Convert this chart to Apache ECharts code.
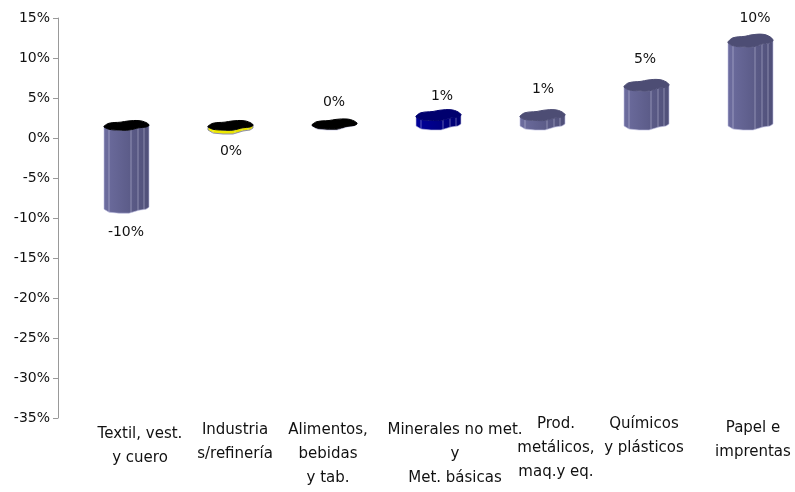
<!DOCTYPE html>
<html><head><meta charset="utf-8">
<style>html,body{margin:0;background:#fff}#c{width:795px;height:492px}</style>
<script src="https://cdn.jsdelivr.net/npm/echarts@6/dist/echarts.min.js"></script>
</head><body><div id="c"></div>
<script>
const categories = ['Textil, vest.\ny cuero','Industria\ns/refinería','Alimentos,\nbebidas\ny tab.','Minerales no met.\ny\nMet. básicas','Prod.\nmetálicos,\nmaq.y eq.','Químicos\ny plásticos','Papel e\nimprentas'];
const values = [-10.4,-0.5,0.2,1.2,1.2,4.9,10.4];
const valueLabels = ['-10%','0%','0%','1%','1%','5%','10%'];
const yTicks = {min:-35,max:15,interval:5};

// layout and colour lists, separate from the data
const catNudge = [[30,10],[21,6],[10,6],[33,6],[30,0],[14,0],[19,4]];
const labelPos = [[-1,19],[0,17],[-1,-15],[3,-13],[0,-20],[-2,-20],[4,-17]];
const bodyCol = [['#6d6d9f','#4f4f78'],['#f5f000','#e0dc00'],['#000','#000'],['#00009a','#000070'],['#6d6d9f','#4f4f78'],['#6d6d9f','#4f4f78'],['#6d6d9f','#4f4f78']];
const topCol = ['#000','#000','#000','#00006e','#4d4d74','#4d4d74','#4d4d74'];
const lidScale = [0.75,0.75,0.75,0.85,0.85,0.9,1];
const frontCurve = [[-23,-4],[-18,-1],[-8,0],[2,0],[12,-3],[19,-4],[22,-6]];
const backCurve = [[22,-7],[19,-10],[12,-12.5],[1,-12],[-6,-10.5],[-18,-9],[-23,-5]];
const ridges = [-18,4,11,17];

function frontY(dx){
  for(let i=1;i<frontCurve.length;i++){
    if(dx<=frontCurve[i][0]){
      const a=frontCurve[i-1],b=frontCurve[i];
      return a[1]+(b[1]-a[1])*(dx-a[0])/(b[0]-a[0]);
    }
  }
  return -6;
}

function renderColumn(params, api){
  const i = params.dataIndex, v = api.value(1);
  const c0 = api.coord([api.value(0),0]), c1 = api.coord([api.value(0),v]);
  const cx = c0[0]+17, depth = 8, s = lidScale[i];
  const yFront = Math.min(c0[1],c1[1])-depth, yBase = Math.max(c0[1],c1[1])-depth;
  const kids = [];
  const body = frontCurve.map(p=>[cx+p[0],yFront+p[1]]).concat(frontCurve.slice().reverse().map(p=>[cx+p[0],yBase+p[1]]));
  kids.push({type:'polygon',shape:{points:body},style:{
    fill:new echarts.graphic.LinearGradient(0,0,1,0,[{offset:0,color:bodyCol[i][0]},{offset:1,color:bodyCol[i][1]}]),
    stroke:i===1?'#8f8fa8':'rgba(190,190,225,.6)',lineWidth:1}});
  ridges.forEach(dx=>{
    const f=frontY(dx);
    kids.push({type:'line',shape:{x1:cx+dx,y1:yFront+f,x2:cx+dx,y2:yBase+f},style:{stroke:'rgba(225,225,245,.4)',lineWidth:1}});
  });
  const lid = frontCurve.concat(backCurve).map(p=>[cx+p[0],yFront+p[1]*s]);
  kids.push({type:'polygon',shape:{points:lid,smooth:0.4},style:{fill:topCol[i],stroke:topCol[i],lineWidth:1}});
  const ly = v<0 ? yBase : yFront-11.5;
  kids.push({type:'text',style:{text:valueLabels[i],x:cx+labelPos[i][0],y:ly+labelPos[i][1],
    align:'center',verticalAlign:'middle',font:'14px "DejaVu Sans"',fill:'#111'}});
  return {type:'group',children:kids};
}

const chart = echarts.init(document.getElementById('c'),null,{renderer:'canvas'});
chart.setOption({
  animation:false,
  backgroundColor:'#fff',
  grid:{left:58,top:18,width:728,height:400,outerBoundsMode:'none',containLabel:false},
  xAxis:{type:'category',position:'bottom',
    data:categories.map((c,i)=>{
      const [dx,top]=catNudge[i];
      return {value:c,textStyle:{padding:[top,0,0,dx*2]}};
    }),
    axisLine:{show:false,onZero:false},axisTick:{show:false},
    axisLabel:{interval:0,color:'#111',fontFamily:'DejaVu Sans',fontSize:15,lineHeight:24,margin:-6,hideOverlap:false,width:220,overflow:'none'},
    splitLine:{show:false}},
  yAxis:{type:'value',min:yTicks.min,max:yTicks.max,interval:yTicks.interval,
    axisLine:{show:true,lineStyle:{color:'#999'}},
    axisTick:{show:true,length:5,lineStyle:{color:'#999'}},
    axisLabel:{color:'#111',fontFamily:'DejaVu Sans',fontSize:14,margin:8,formatter:v=>v+'%'},
    splitLine:{show:false}},
  series:[{type:'custom',coordinateSystem:'cartesian2d',renderItem:renderColumn,clip:false,
    encode:{x:0,y:1},data:values.map((v,i)=>[i,v])}]
});
</script></body></html>
